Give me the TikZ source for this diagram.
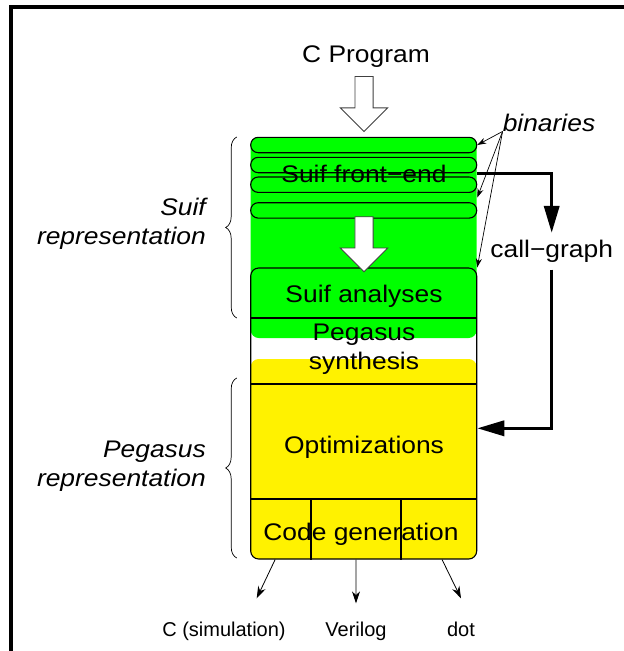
\documentclass[tikz,border=0pt]{standalone}
\usepackage{fontspec}
\setmainfont{Liberation Sans}
\newfontfamily\widefont{Liberation Sans}[FakeStretch=1.1]
\usetikzlibrary{arrows.meta,shapes.arrows,decorations.pathreplacing,calc,positioning}

\begin{document}
\begin{tikzpicture}[
    x=1pt, y=-1pt,
    big/.style={font=\widefont\fontsize{24}{29}\selectfont, inner sep=0pt, align=center},
    bigit/.style={font=\widefont\itshape\fontsize{24}{29}\selectfont, inner sep=0pt, align=right},
    small/.style={font=\fontsize{20}{24}\selectfont, inner sep=0pt},
    region/.style={rectangle, rounded corners=8pt, minimum width=226pt, inner sep=0pt},
    binbar/.style={rectangle, draw, fill=green, rounded corners=7.5pt, minimum width=226pt, minimum height=15.4pt, inner sep=0pt, line width=1.1pt},
    fatarrow/.style={single arrow, draw=black!75, fill=white, line width=0.8pt, rotate=-90, minimum height=55pt, single arrow head extend=14.6pt, inner xsep=0pt, inner ysep=8.7pt},
    rule/.style={line width=1.1pt},
    callarrow/.style={line width=3.5pt, -{Triangle[length=27pt,width=15pt]}},
    thinarrow/.style={line width=0.8pt, -{Stealth[length=12pt,width=8pt]}},
    binarrow/.style={line width=0.7pt, -{Stealth[length=9pt,width=6pt]}},
    brace/.style={decorate, decoration={brace, amplitude=11pt}, line width=0.7pt}
]
    \useasboundingbox (0,0) rectangle (624,651);
    % frame
    \draw[line width=4pt] (11,651) -- (11,7) -- (624,7);

    % coloured regions
    \node[region, fill=green, minimum height=201pt] (suifbg) at (363.7,237.5) {};
    \node[region, fill=yellow, minimum height=200pt] (pegbg) at (363.7,459) {};

    % binaries
    \foreach \i/\y in {1/145,2/165,3/184.7,4/210.4}
        \node[binbar] (bin\i) at (363.7,\y) {};

    % compiler passes
    \node[region, draw, rule, minimum height=291pt] (passes) at (363.7,413.5) {};
    \draw[rule] (passes.west |- 0,318) -- (passes.east |- 0,318);
    \draw[rule] (passes.west |- 0,384) -- (passes.east |- 0,384);
    \draw[rule] (passes.west |- 0,499) -- (passes.east |- 0,499);
    \draw[rule] (311,499) -- (311,0 |- passes.south);
    \draw[rule] (401,499) -- (401,0 |- passes.south);

    \node[big, anchor=base] (prog) at (366,62) {C Program};
    \node[fatarrow] (inarrow) at (364,99.5) {};
    \node[big, anchor=base] (front) at (364,182) {Suif front−end};
    \node[fatarrow] (midarrow) at (364,239.7) {};
    \node[big, anchor=base] (anal) at (364,302.5) {Suif analyses};
    \node[big] (synth) at (364,349) {Pegasus\\synthesis};
    \node[big, anchor=base] (opt) at (364,453) {Optimizations};
    \node[big, anchor=base] (codegen) at (361,540) {Code generation};

    % representations
    \draw[brace] (236.7,318) -- (236.7,137);
    \draw[brace] (236.7,558) -- (236.7,378);
    \node[bigit, anchor=east] (suifrep) at (206,224) {Suif\\representation};
    \node[bigit, anchor=east] (pegrep) at (206,466) {Pegasus\\representation};

    % binaries labels
    \node[bigit, anchor=base] (bins) at (549,131) {binaries};
    \draw[binarrow] (bins.south west) -- (bin1.east);
    \draw[binarrow] (bins.south west) -- ($(bin3.south east)!.5!(bin4.north east)$);
    \draw[binarrow] (bins.south west) -- (passes.north east);

    % call graph
    \node[big, anchor=base, inner sep=7pt] (callg) at (551.7,257.5) {call−graph};
    \coordinate (cgin) at (passes.east |- 0,428.3);
    \draw[callarrow] (bin2.south east) -| (callg.north);
    \draw[callarrow] (callg.south) |- (cgin);

    % outputs
    \node[small, anchor=base] (csim) at (224,636) {C (simulation)};
    \node[small, anchor=base] (veri) at (356,636) {Verilog};
    \node[small, anchor=base] (dotf) at (461,636) {dot};
    \coordinate (csimtip) at (256.7,598.3);
    \coordinate (veritip) at (356,603.3);
    \coordinate (dottip) at (461,598.3);
    \draw[thinarrow] ($(passes.south west)!.11!(passes.south east)$) -- (csimtip);
    \draw[thinarrow] ($(passes.south west)!.466!(passes.south east)$) -- (veritip);
    \draw[thinarrow] ($(passes.south west)!.845!(passes.south east)$) -- (dottip);
\end{tikzpicture}
\end{document}
